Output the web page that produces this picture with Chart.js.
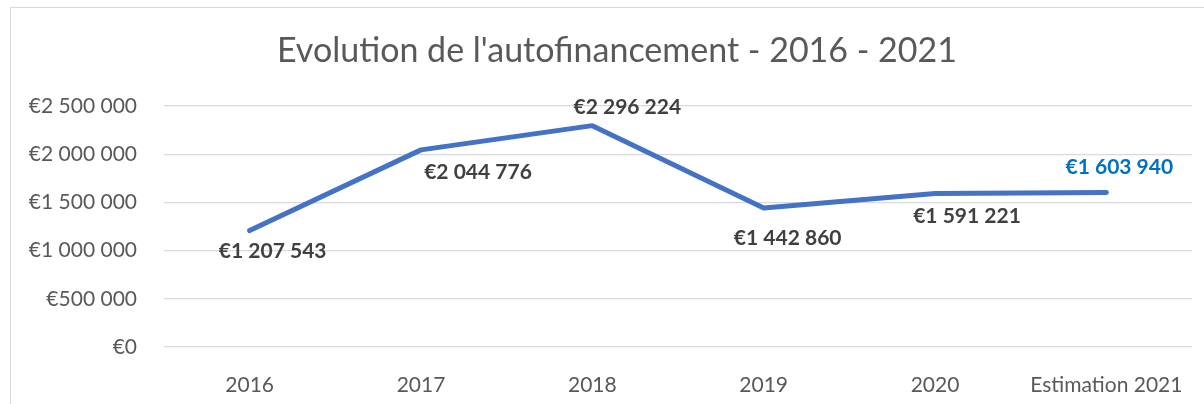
<!DOCTYPE html>
<html>
<head>
<meta charset="utf-8">
<script src="https://cdn.jsdelivr.net/npm/chart.js@4"></script>
<style>
  html, body { margin: 0; padding: 0; background: #fff; }
  #wrap { position: relative; width: 1204px; height: 404px; overflow: hidden; }
  #frame { position: absolute; left: 10px; top: 7px; width: 1300px; height: 500px; border: 1px solid #d9d9d9; box-sizing: border-box; }
  canvas { position: absolute; left: 0; top: 0; }
</style>
</head>
<body>
<div id="wrap">
  <div id="frame"></div>
  <canvas id="autofinChart" width="1204" height="404"></canvas>
</div>
<script>
// chart data
let years = ["2016", "2017", "2018", "2019", "2020", "Estimation 2021"];
let autofinancement = [1207543, 2044776, 2296224, 1442860, 1591221, 1603940];
let yTicks = [0, 500000, 1000000, 1500000, 2000000, 2500000];

// label placement next to each point (pixels), like the moved labels in the original
let labelShift = [[23, 21], [57, 22], [35, -18], [24, 30], [32, 23], [13, -25]];
let labelColors = ["#404040", "#404040", "#404040", "#404040", "#404040", "#0070C0"];

function euro(v) {
  let s = String(Math.round(v)).replace(/\B(?=(\d{3})+(?!\d))/g, " ");
  return "€" + s;
}

// draws the title and the value labels
let labelsPlugin = {
  id: "valueLabels",
  afterDatasetsDraw(chart) {
    let c = chart.ctx;
    c.save();
    c.textAlign = "center";
    c.textBaseline = "middle";
    c.font = "34px Lato, sans-serif";
    c.fillStyle = "#595959";
    c.fillText("Evolution de l'autofinancement - 2016 - 2021", 617, 51);

    c.font = "bold 21px Lato, sans-serif";
    let pts = chart.getDatasetMeta(0).data;
    pts.forEach(function(p, i) {
      c.fillStyle = labelColors[i];
      c.fillText(euro(autofinancement[i]), p.x + labelShift[i][0], p.y + labelShift[i][1]);
    });
    c.restore();
  }
};

let ctx = document.getElementById("autofinChart").getContext("2d");
let autofinChart = new Chart(ctx, {
  type: "line",
  data: {
    labels: years,
    datasets: [{
      label: "Autofinancement",
      data: autofinancement,
      borderColor: "#4472C4",
      borderWidth: 5,
      borderCapStyle: "round",
      borderJoinStyle: "round",
      pointRadius: 0,
      tension: 0,
      fill: false
    }]
  },
  options: {
    responsive: false,
    animation: false,
    layout: { padding: { top: 106, right: 12, bottom: 0, left: 0 } },
    plugins: {
      legend: { display: false },
      title: { display: false },
      tooltip: { enabled: false }
    },
    scales: {
      x: {
        offset: true,
        grid: { display: false },
        border: { display: false },
        ticks: {
          color: "#595959",
          font: { size: 21, family: "Lato, sans-serif" },
          padding: 18,
          maxRotation: 0,
          autoSkip: false
        },
        afterFit(scale) { scale.height = 57; }
      },
      y: {
        min: 0,
        max: 2500000,
        afterBuildTicks(scale) { scale.ticks = yTicks.map(v => ({ value: v })); },
        grid: { color: "#d9d9d9", lineWidth: 1.3, drawTicks: false },
        border: { display: false },
        ticks: {
          color: "#595959",
          font: { size: 21, family: "Lato, sans-serif" },
          padding: 27,
          callback: function(value) { return euro(value); }
        },
        afterFit(scale) { scale.width = 164; }
      }
    }
  },
  plugins: [labelsPlugin]
});
</script>
</body>
</html>
